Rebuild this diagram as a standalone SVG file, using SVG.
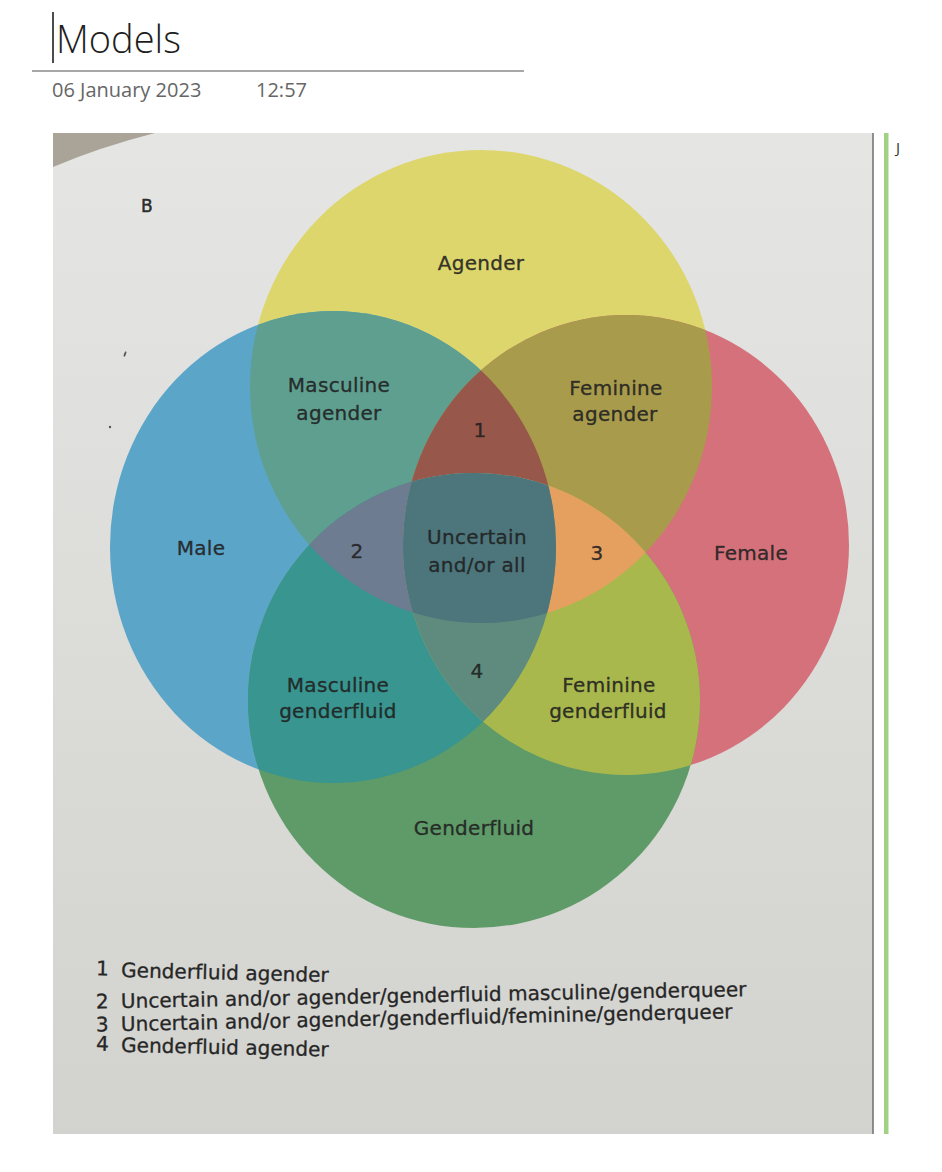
<svg xmlns="http://www.w3.org/2000/svg" xmlns:xlink="http://www.w3.org/1999/xlink" width="942" height="1172" viewBox="0 0 942 1172">
<defs>
<style>
.hdr{font-family:"Open Sans","Liberation Sans",sans-serif}
.lbl{font-family:"DejaVu Sans","Liberation Sans",sans-serif;font-size:20px;letter-spacing:0.3px;fill:#202020;fill-opacity:0.88;stroke:#202020;stroke-opacity:0.7;stroke-width:0.45px;text-anchor:middle}
.leg{font-family:"DejaVu Sans","Liberation Sans",sans-serif;font-size:20px;letter-spacing:0.05px;fill:#262626;stroke:#262626;stroke-opacity:0.7;stroke-width:0.45px}
</style>
<linearGradient id="paper" x1="0" y1="0" x2="0" y2="1">
<stop offset="0" stop-color="#e5e6e4"/>
<stop offset="0.5" stop-color="#dcdcd9"/>
<stop offset="1" stop-color="#d2d2ce"/>
</linearGradient>
<ellipse id="eY" cx="481" cy="386.5" rx="231" ry="236.5"/>
<ellipse id="eB" cx="333" cy="547" rx="223" ry="236"/>
<ellipse id="eR" cx="626" cy="545" rx="223" ry="230"/>
<ellipse id="eG" cx="474" cy="700.5" rx="226" ry="227.5"/>
<clipPath id="cY"><use href="#eY" xlink:href="#eY"/></clipPath>
<clipPath id="cB"><use href="#eB" xlink:href="#eB"/></clipPath>
<clipPath id="cG"><use href="#eG" xlink:href="#eG"/></clipPath>
</defs>

<rect width="942" height="1172" fill="#ffffff"/>

<g id="header">
<line x1="53" y1="12" x2="53" y2="63" stroke="#111" stroke-width="1.5"/>
<text class="hdr" x="56" y="53" font-size="38" font-weight="300" fill="#1e1e1e">Models</text>
<line x1="32" y1="71" x2="524" y2="71" stroke="#8a8a8a" stroke-width="1.4"/>
<text class="hdr" x="52" y="97" font-size="20" fill="#666">06 January 2023</text>
<text class="hdr" x="256" y="97" font-size="20" fill="#666">12:57</text>
<text class="hdr" x="896" y="153" font-size="15" fill="#333">J</text>
</g>

<g id="photo">
<rect x="53" y="133" width="820" height="1001" fill="url(#paper)"/>
<path d="M53,133 L155,133 Q100,147 53,167 Z" fill="#a9a497"/>
<ellipse cx="125" cy="354" rx="1" ry="3" fill="#555" transform="rotate(20 125 354)"/>
<circle cx="110" cy="427" r="1.2" fill="#555"/>
<line x1="873" y1="133" x2="873" y2="1134" stroke="#6e6e6e" stroke-width="1.5"/>
<rect x="884" y="133" width="4.5" height="1001" fill="#a2d183"/>
<text x="141" y="212" font-family="DejaVu Sans, Liberation Sans, sans-serif" font-size="17" fill="#2c2c2c" stroke="#2c2c2c" stroke-width="0.5">B</text>
</g>

<g id="agender">
<use href="#eY" xlink:href="#eY" fill="#ddd66c"/>
<text class="lbl" x="481" y="270">Agender</text>
</g>
<g id="male">
<use href="#eB" xlink:href="#eB" fill="#5ba5c9"/>
<text class="lbl" x="201" y="555">Male</text>
</g>
<g id="female">
<use href="#eR" xlink:href="#eR" fill="#d4717a"/>
<text class="lbl" x="751" y="560">Female</text>
</g>
<g id="genderfluid">
<use href="#eG" xlink:href="#eG" fill="#5f9b68"/>
<text class="lbl" x="474" y="835">Genderfluid</text>
</g>

<g id="masculine-agender">
<g clip-path="url(#cY)"><use href="#eB" xlink:href="#eB" fill="#5f9f90"/></g>
<text class="lbl" x="339" y="392">Masculine</text>
<text class="lbl" x="339" y="420">agender</text>
</g>
<g id="feminine-agender">
<g clip-path="url(#cY)"><use href="#eR" xlink:href="#eR" fill="#a99b4c"/></g>
<text class="lbl" x="616" y="395">Feminine</text>
<text class="lbl" x="615" y="421">agender</text>
</g>
<g id="masculine-genderfluid">
<g clip-path="url(#cG)"><use href="#eB" xlink:href="#eB" fill="#38958f"/></g>
<text class="lbl" x="338" y="692">Masculine</text>
<text class="lbl" x="338" y="718">genderfluid</text>
</g>
<g id="feminine-genderfluid">
<g clip-path="url(#cG)"><use href="#eR" xlink:href="#eR" fill="#a9b84c"/></g>
<text class="lbl" x="609" y="692">Feminine</text>
<text class="lbl" x="608" y="718">genderfluid</text>
</g>

<g id="region-1">
<g clip-path="url(#cY)"><g clip-path="url(#cB)"><use href="#eR" xlink:href="#eR" fill="#97574b"/></g></g>
<text class="lbl" x="480" y="437">1</text>
</g>
<g id="region-2">
<g clip-path="url(#cY)"><g clip-path="url(#cG)"><use href="#eB" xlink:href="#eB" fill="#6d7c90"/></g></g>
<text class="lbl" x="357" y="558">2</text>
</g>
<g id="region-3">
<g clip-path="url(#cY)"><g clip-path="url(#cG)"><use href="#eR" xlink:href="#eR" fill="#e5a060"/></g></g>
<text class="lbl" x="597" y="560">3</text>
</g>
<g id="region-4">
<g clip-path="url(#cB)"><g clip-path="url(#cG)"><use href="#eR" xlink:href="#eR" fill="#5e8b7e"/></g></g>
<text class="lbl" x="477" y="678">4</text>
</g>
<g id="uncertain">
<g clip-path="url(#cY)"><g clip-path="url(#cB)"><g clip-path="url(#cG)"><use href="#eR" xlink:href="#eR" fill="#4c767c"/></g></g></g>
<text class="lbl" x="477" y="544">Uncertain</text>
<text class="lbl" x="477" y="572">and/or all</text>
</g>

<g id="connectors"></g>

<g id="legend" class="leg">
<g transform="rotate(1.4 123 977)">
<text x="96" y="976">1</text>
<text x="121" y="977">Genderfluid agender</text>
</g>
<g transform="rotate(-1.1 123 1008)">
<text x="96" y="1008">2</text>
<text x="121" y="1008">Uncertain and/or agender/genderfluid masculine/genderqueer</text>
</g>
<g transform="rotate(-1.2 123 1031)">
<text x="96" y="1031">3</text>
<text x="121" y="1031">Uncertain and/or agender/genderfluid/feminine/genderqueer</text>
</g>
<g transform="rotate(1.2 123 1052)">
<text x="96" y="1051">4</text>
<text x="121" y="1052">Genderfluid agender</text>
</g>
</g>
</svg>
